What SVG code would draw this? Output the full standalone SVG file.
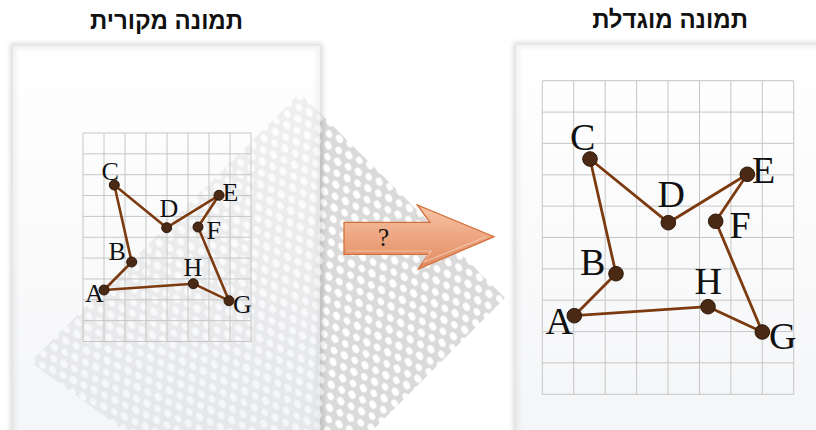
<svg xmlns="http://www.w3.org/2000/svg" width="816" height="430" viewBox="0 0 816 430">
<defs>
  <style>
    .title{font-family:"Liberation Sans","DejaVu Sans",sans-serif;font-weight:bold;font-size:24px;fill:#111;text-anchor:middle}
    .grid{fill:none;stroke:#c6c6c6;stroke-width:1}
    .edge{fill:none;stroke:#7c3a10;stroke-width:2.8;stroke-linejoin:round}
    .edgeL{fill:none;stroke:#7c3a10;stroke-width:2.6;stroke-linejoin:round}
    .pt{fill:#4a2a14;stroke:#2e1808;stroke-width:1}
    .lblS{font-family:"Liberation Serif","DejaVu Serif",serif;font-size:26px;fill:#111}
    .lblL{font-family:"Liberation Serif","DejaVu Serif",serif;font-size:38px;fill:#111}
    .panel{fill:url(#panelGrad);fill-opacity:0.6}
    .pshadow{fill:none;stroke:#000;stroke-opacity:0.16;stroke-width:5;filter:url(#blur)}
  </style>
  <linearGradient id="panelGrad" x1="0" y1="0" x2="0" y2="1">
    <stop offset="0" stop-color="#ffffff"/>
    <stop offset="1" stop-color="#eceef1"/>
  </linearGradient>
  <linearGradient id="arrowGrad" x1="0" y1="0" x2="0" y2="1">
    <stop offset="0" stop-color="#f6c5a8"/>
    <stop offset="0.5" stop-color="#eda681"/>
    <stop offset="1" stop-color="#e08c60"/>
  </linearGradient>
  <filter id="blur" x="-10%" y="-10%" width="120%" height="120%">
    <feGaussianBlur stdDeviation="2.5"/>
  </filter>
  <pattern id="leaves" width="13" height="19" patternUnits="userSpaceOnUse" patternTransform="rotate(-30)">
    <rect width="13" height="19" fill="#dadada"/>
    <ellipse cx="3.5" cy="5" rx="3.2" ry="4.4" fill="#ffffff"/>
    <ellipse cx="10" cy="14.5" rx="3" ry="4" fill="#ffffff"/>
  </pattern>
</defs>

<rect width="816" height="430" fill="#ffffff"/>

<!-- watermark (faint) -->
<g id="watermark">
  <polygon points="30,362 300,93 505,298 268,535" fill="url(#leaves)"/>
</g>

<!-- panels -->
<g id="panel-left">
  <rect x="13" y="46" width="307" height="420" class="pshadow"/>
  <rect x="13" y="46" width="307" height="420" class="panel"/>
</g>
<g id="panel-right">
  <rect x="516" y="45" width="320" height="420" class="pshadow"/>
  <rect x="516" y="45" width="320" height="420" class="panel"/>
</g>

<!-- titles -->
<g id="title-left"><text x="166.5" y="29" class="title">תמונה מקורית</text></g>
<g id="title-right"><text x="670" y="28" class="title">תמונה מוגדלת</text></g>

<!-- left grid -->
<g id="grid-left" class="grid">
  <path d="M83,133V341.5M104,133V341.5M125,133V341.5M146,133V341.5M167,133V341.5M188,133V341.5M209,133V341.5M230,133V341.5M251,133V341.5"/>
  <path d="M83,133H251M83,153.85H251M83,174.7H251M83,195.55H251M83,216.4H251M83,237.25H251M83,258.1H251M83,278.95H251M83,299.8H251M83,320.65H251M83,341.5H251"/>
</g>

<!-- right grid -->
<g id="grid-right" class="grid">
  <path d="M542.3,80.7V394.3M573.7,80.7V394.3M605.2,80.7V394.3M636.6,80.7V394.3M668,80.7V394.3M699.5,80.7V394.3M730.9,80.7V394.3M762.3,80.7V394.3M793.7,80.7V394.3"/>
  <path d="M542.3,80.7H793.7M542.3,112.1H793.7M542.3,143.4H793.7M542.3,174.8H793.7M542.3,206.1H793.7M542.3,237.5H793.7M542.3,268.9H793.7M542.3,300.2H793.7M542.3,331.6H793.7M542.3,362.9H793.7M542.3,394.3H793.7"/>
</g>

<!-- connectors -->
<g id="connectors">
  <polygon class="edgeL" points="104,290 131.7,262 114.3,185 166.7,227.7 219,195.3 198,227 229,300.7 193.3,283.7"/>
  <polygon class="edge" points="574.3,315.7 616,273.7 590,159 668.3,222.7 747.3,174.3 715.7,221.3 762.3,332 708,306.7"/>
</g>

<!-- left figure nodes -->
<g id="left-A"><circle cx="104" cy="290" r="5" class="pt"/><text x="85" y="301.5" class="lblS">A</text></g>
<g id="left-B"><circle cx="131.7" cy="262" r="5" class="pt"/><text x="108.5" y="260" class="lblS">B</text></g>
<g id="left-C"><circle cx="114.3" cy="185" r="5" class="pt"/><text x="101.5" y="179.5" class="lblS">C</text></g>
<g id="left-D"><circle cx="166.7" cy="227.7" r="5" class="pt"/><text x="159.5" y="216.5" class="lblS">D</text></g>
<g id="left-E"><circle cx="219" cy="195.3" r="5" class="pt"/><text x="222.5" y="201" class="lblS">E</text></g>
<g id="left-F"><circle cx="198" cy="227" r="5" class="pt"/><text x="206.5" y="239" class="lblS">F</text></g>
<g id="left-G"><circle cx="229" cy="300.7" r="5" class="pt"/><text x="233" y="313" class="lblS">G</text></g>
<g id="left-H"><circle cx="193.3" cy="283.7" r="5" class="pt"/><text x="183.5" y="276" class="lblS">H</text></g>

<!-- right figure nodes -->
<g id="right-A"><circle cx="574.3" cy="315.7" r="7.3" class="pt"/><text x="545.5" y="334" class="lblL">A</text></g>
<g id="right-B"><circle cx="616" cy="273.7" r="7.3" class="pt"/><text x="580" y="275" class="lblL">B</text></g>
<g id="right-C"><circle cx="590" cy="159" r="7.3" class="pt"/><text x="570" y="150" class="lblL">C</text></g>
<g id="right-D"><circle cx="668.3" cy="222.7" r="7.3" class="pt"/><text x="657.5" y="206.7" class="lblL">D</text></g>
<g id="right-E"><circle cx="747.3" cy="174.3" r="7.3" class="pt"/><text x="752" y="182.7" class="lblL">E</text></g>
<g id="right-F"><circle cx="715.7" cy="221.3" r="7.3" class="pt"/><text x="729.5" y="238" class="lblL">F</text></g>
<g id="right-G"><circle cx="762.3" cy="332" r="7.3" class="pt"/><text x="769" y="349.3" class="lblL">G</text></g>
<g id="right-H"><circle cx="708" cy="306.7" r="7.3" class="pt"/><text x="694.5" y="294.3" class="lblL">H</text></g>

<!-- arrow -->
<g id="arrow">
  <polygon points="344,222.3 430,222.3 417.3,205 494,236.7 418.3,269 428.3,254.3 344,254.3" fill="url(#arrowGrad)" stroke="#d4703c" stroke-width="1.3" stroke-linejoin="miter"/>
  <polyline points="347,251 431,251 424,262 486,236.7" fill="none" stroke="#fbe0cf" stroke-opacity="0.55" stroke-width="1.2"/>
  <text x="383.5" y="246" font-family="Liberation Serif, DejaVu Serif, serif" font-size="25" fill="#111" text-anchor="middle">?</text>
</g>
</svg>
